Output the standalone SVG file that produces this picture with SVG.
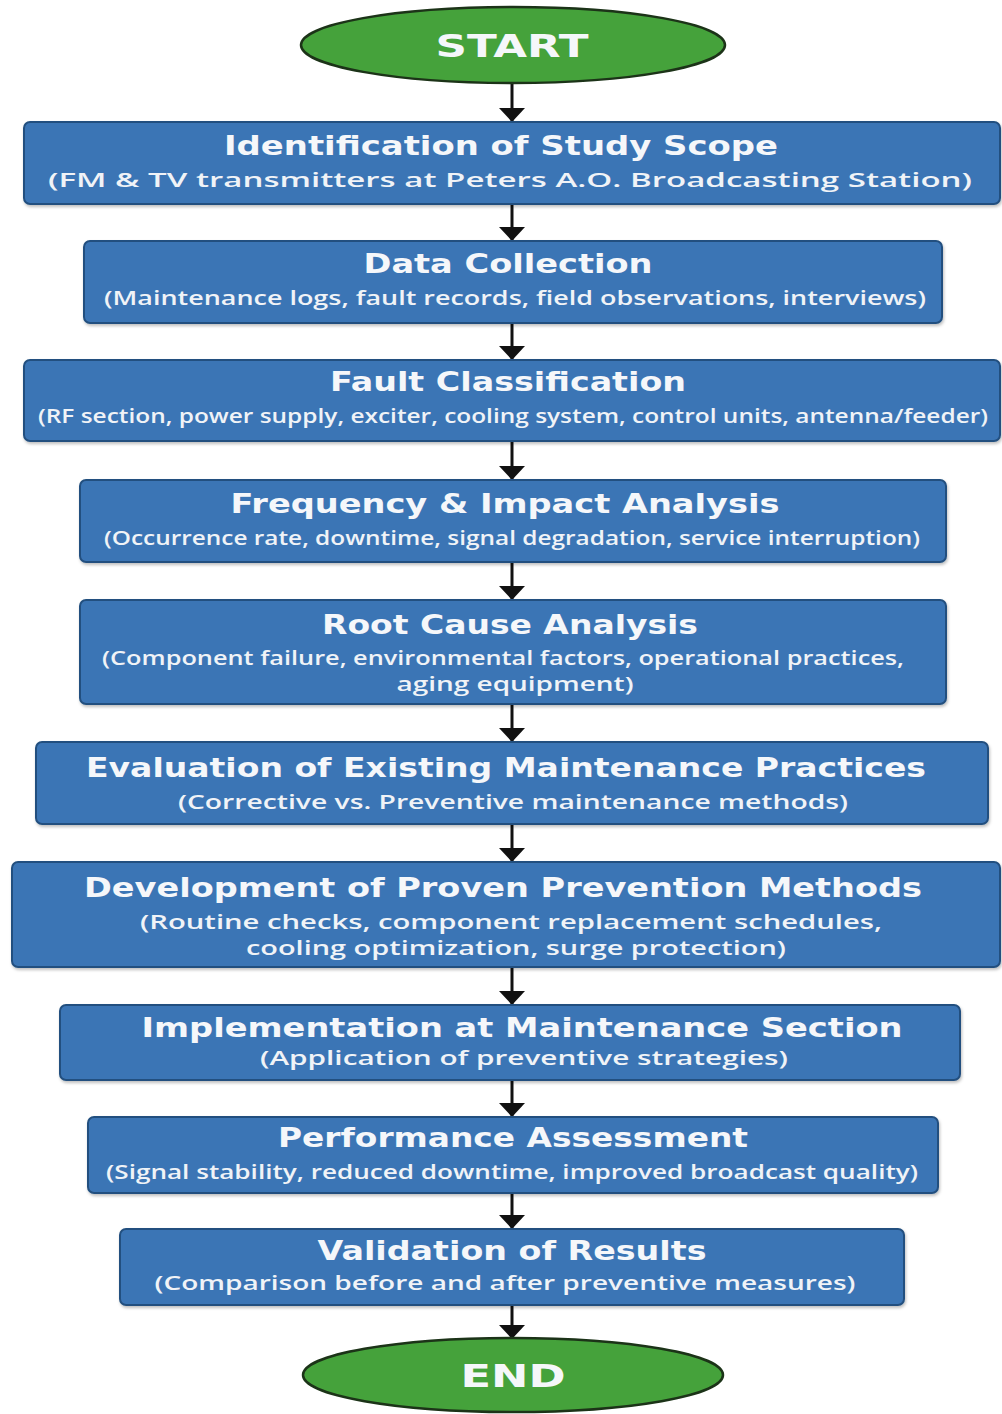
<svg xmlns="http://www.w3.org/2000/svg" width="1002" height="1414" viewBox="0 0 1002 1414">
<style>
.box{fill:#3a74b5;stroke:#24507f;stroke-width:2}
.term{fill:#45a23b;stroke:#1c3318;stroke-width:2.5}
.t{font-family:"DejaVu Sans",Verdana,sans-serif;font-weight:bold;font-size:26.5px;fill:#f5f7fa;text-anchor:middle}
.s{font-family:"Open Sans","DejaVu Sans",sans-serif;font-weight:600;font-size:20px;fill:#f0f3f7;text-anchor:middle}
.tt{font-family:"DejaVu Sans",Verdana,sans-serif;font-weight:bold;font-size:32px;fill:#f5f7fa;text-anchor:middle}
.c{stroke:#111;stroke-width:3;fill:none}
</style>
<defs>
<marker id="ah" markerUnits="userSpaceOnUse" markerWidth="16" markerHeight="28" refX="14" refY="14" orient="auto" viewBox="0 0 16 28">
<path d="M1,1 L15,14 L1,27 Z" fill="#111"/>
</marker>
<filter id="sh" x="-5%" y="-10%" width="110%" height="130%"><feDropShadow dx="1" dy="2" stdDeviation="1.5" flood-color="#000" flood-opacity="0.25"/></filter>
</defs>
<g id="connectors">
<line class="c" x1="512" y1="84" x2="512" y2="121" marker-end="url(#ah)"/>
<line class="c" x1="512" y1="205" x2="512" y2="240" marker-end="url(#ah)"/>
<line class="c" x1="512" y1="324" x2="512" y2="359" marker-end="url(#ah)"/>
<line class="c" x1="512" y1="442" x2="512" y2="479" marker-end="url(#ah)"/>
<line class="c" x1="512" y1="563" x2="512" y2="599" marker-end="url(#ah)"/>
<line class="c" x1="512" y1="705" x2="512" y2="741" marker-end="url(#ah)"/>
<line class="c" x1="512" y1="825" x2="512" y2="861" marker-end="url(#ah)"/>
<line class="c" x1="512" y1="968" x2="512" y2="1004" marker-end="url(#ah)"/>
<line class="c" x1="512" y1="1081" x2="512" y2="1116" marker-end="url(#ah)"/>
<line class="c" x1="512" y1="1194" x2="512" y2="1228" marker-end="url(#ah)"/>
<line class="c" x1="512" y1="1306" x2="512" y2="1338" marker-end="url(#ah)"/>
</g>
<g id="start">
<ellipse class="term" cx="513" cy="45" rx="212" ry="38"/>
<text class="tt" x="512" y="57" textLength="153" lengthAdjust="spacingAndGlyphs">START</text>
</g>
<g id="n1">
<rect class="box" filter="url(#sh)" x="24" y="122" width="976" height="82" rx="6"/>
<text class="t" x="501" y="155" textLength="554" lengthAdjust="spacingAndGlyphs">Identification of Study Scope</text>
<text class="s" x="510" y="187" textLength="924" lengthAdjust="spacingAndGlyphs">(FM &amp; TV transmitters at Peters A.O. Broadcasting Station)</text>
</g>
<g id="n2">
<rect class="box" filter="url(#sh)" x="84" y="241" width="858" height="82" rx="6"/>
<text class="t" x="508" y="273" textLength="289" lengthAdjust="spacingAndGlyphs">Data Collection</text>
<text class="s" x="515" y="305" textLength="822" lengthAdjust="spacingAndGlyphs">(Maintenance logs, fault records, field observations, interviews)</text>
</g>
<g id="n3">
<rect class="box" filter="url(#sh)" x="24" y="360" width="976" height="81" rx="6"/>
<text class="t" x="508" y="391" textLength="356" lengthAdjust="spacingAndGlyphs">Fault Classification</text>
<text class="s" x="513" y="423" textLength="950" lengthAdjust="spacingAndGlyphs">(RF section, power supply, exciter, cooling system, control units, antenna/feeder)</text>
</g>
<g id="n4">
<rect class="box" filter="url(#sh)" x="80" y="480" width="866" height="82" rx="6"/>
<text class="t" x="505" y="513" textLength="549" lengthAdjust="spacingAndGlyphs">Frequency &amp; Impact Analysis</text>
<text class="s" x="512" y="545" textLength="816" lengthAdjust="spacingAndGlyphs">(Occurrence rate, downtime, signal degradation, service interruption)</text>
</g>
<g id="n5">
<rect class="box" filter="url(#sh)" x="80" y="600" width="866" height="104" rx="6"/>
<text class="t" x="510" y="634" textLength="376" lengthAdjust="spacingAndGlyphs">Root Cause Analysis</text>
<text class="s" x="503" y="665" textLength="802" lengthAdjust="spacingAndGlyphs">(Component failure, environmental factors, operational practices,</text>
<text class="s" x="515" y="691" textLength="237" lengthAdjust="spacingAndGlyphs">aging equipment)</text>
</g>
<g id="n6">
<rect class="box" filter="url(#sh)" x="36" y="742" width="952" height="82" rx="6"/>
<text class="t" x="506" y="777" textLength="840" lengthAdjust="spacingAndGlyphs">Evaluation of Existing Maintenance Practices</text>
<text class="s" x="513" y="809" textLength="670" lengthAdjust="spacingAndGlyphs">(Corrective vs. Preventive maintenance methods)</text>
</g>
<g id="n7">
<rect class="box" filter="url(#sh)" x="12" y="862" width="988" height="105" rx="6"/>
<text class="t" x="503" y="897" textLength="838" lengthAdjust="spacingAndGlyphs">Development of Proven Prevention Methods</text>
<text class="s" x="511" y="929" textLength="742" lengthAdjust="spacingAndGlyphs">(Routine checks, component replacement schedules,</text>
<text class="s" x="516" y="955" textLength="540" lengthAdjust="spacingAndGlyphs">cooling optimization, surge protection)</text>
</g>
<g id="n8">
<rect class="box" filter="url(#sh)" x="60" y="1005" width="900" height="75" rx="6"/>
<text class="t" x="522" y="1037" textLength="761" lengthAdjust="spacingAndGlyphs">Implementation at Maintenance Section</text>
<text class="s" x="524" y="1065" textLength="528" lengthAdjust="spacingAndGlyphs">(Application of preventive strategies)</text>
</g>
<g id="n9">
<rect class="box" filter="url(#sh)" x="88" y="1117" width="850" height="76" rx="6"/>
<text class="t" x="513" y="1147" textLength="470" lengthAdjust="spacingAndGlyphs">Performance Assessment</text>
<text class="s" x="512" y="1179" textLength="812" lengthAdjust="spacingAndGlyphs">(Signal stability, reduced downtime, improved broadcast quality)</text>
</g>
<g id="n10">
<rect class="box" filter="url(#sh)" x="120" y="1229" width="784" height="76" rx="6"/>
<text class="t" x="512" y="1260" textLength="389" lengthAdjust="spacingAndGlyphs">Validation of Results</text>
<text class="s" x="505" y="1290" textLength="701" lengthAdjust="spacingAndGlyphs">(Comparison before and after preventive measures)</text>
</g>
<g id="end">
<ellipse class="term" cx="513" cy="1375" rx="210" ry="37"/>
<text class="tt" x="513" y="1387" textLength="105" lengthAdjust="spacingAndGlyphs">END</text>
</g>
</svg>
